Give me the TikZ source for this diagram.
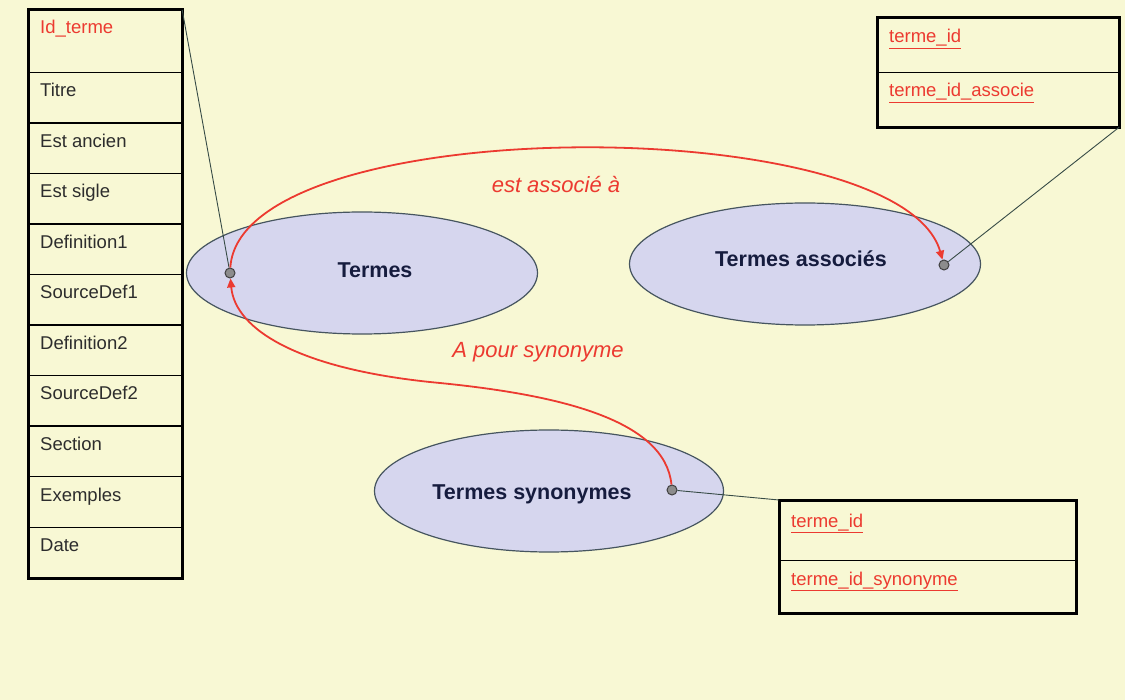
\documentclass[tikz,border=0pt]{standalone}
\usepackage{fontspec}
\setmainfont{Liberation Sans}
\usepackage{tikz}
\usetikzlibrary{arrows.meta,shapes.geometric}
\definecolor{bgYellow}{RGB}{248,248,212}
\definecolor{ellFill}{RGB}{214,214,238}
\definecolor{ellLine}{RGB}{70,85,95}
\definecolor{relRed}{RGB}{236,58,48}
\definecolor{entNavy}{RGB}{22,28,62}
\definecolor{fieldGray}{RGB}{45,45,45}
\definecolor{linkGray}{RGB}{55,75,70}
\newcommand{\fieldfont}{\fontsize{18.5}{22}\selectfont}
\newcommand{\entfont}{\fontsize{21.5}{25}\selectfont\bfseries}
\newcommand{\relfont}{\fontsize{22}{26}\selectfont\itshape}
\newcommand{\keyfield}[1]{\underline{#1}}
\tikzset{
    >={Triangle[length=9pt,width=8pt]},
    cell/.style={draw=black,line width=1.2pt,anchor=north west,inner sep=0pt},
    frame/.style={draw=black,line width=3pt},
    fieldtxt/.style={anchor=base west,xshift=12pt,yshift=-25pt,inner sep=0pt,font=\fieldfont,text=fieldGray},
    keytxt/.style={fieldtxt,text=relRed},
    entity/.style={ellipse,draw=ellLine,line width=1.2pt,fill=ellFill,inner sep=0pt},
    entitytxt/.style={font=\entfont,text=entNavy,inner sep=0pt},
    dot/.style={circle,minimum size=10pt,inner sep=0pt,draw=black!75,line width=1pt,fill=black!45},
    link/.style={draw=linkGray,line width=0.9pt},
    relarrow/.style={->,draw=relRed,line width=1.8pt},
    rellabel/.style={font=\relfont,text=relRed,inner sep=0pt},
}
\begin{document}
\begin{tikzpicture}[x=1pt,y=-1pt]
        \fill[bgYellow] (0,0) rectangle (1125,700);
        \useasboundingbox (0,0) rectangle (1125,700);

        % table of the terms
        \node[cell,minimum width=153pt,minimum height=62pt] (idterme) at (28,10) {};
        \node[keytxt,yshift=1pt] (idterme-t) at (idterme.north west) {Id\_terme};
        \foreach \nm/\txt [count=\i] in {titre/Titre,ancien/Est ancien,sigle/Est sigle,defa/Definition1,srca/SourceDef1,defb/Definition2,srcb/SourceDef2,section/Section,exemples/Exemples,date/Date}{
                \node[cell,minimum width=153pt,minimum height=50.5pt] (\nm) at (28,{72+(\i-1)*50.5}) {};
                \node[fieldtxt] (\nm-t) at (\nm.north west) {\txt};
        }
        \draw[frame] (idterme.north west) rectangle (date.south east);

        % table of the associations
        \node[cell,minimum width=241pt,minimum height=54pt] (ida) at (877,18) {};
        \node[cell,minimum width=241pt,minimum height=54pt] (idassoc) at (877,72) {};
        \node[keytxt] (ida-t) at (ida.north west) {\keyfield{terme\_id}};
        \node[keytxt] (idassoc-t) at (idassoc.north west) {\keyfield{terme\_id\_associe}};
        \draw[frame] (ida.north west) rectangle (idassoc.south east);

        % table of the synonyms
        \node[cell,minimum width=296pt,minimum height=60pt] (ids) at (779,500) {};
        \node[cell,minimum width=296pt,minimum height=52pt] (idsyn) at (779,560) {};
        \node[keytxt,yshift=-2pt] (ids-t) at (ids.north west) {\keyfield{terme\_id}};
        \node[keytxt] (idsyn-t) at (idsyn.north west) {\keyfield{terme\_id\_synonyme}};
        \draw[frame] (ids.north west) rectangle (idsyn.south east);

        % entities
        \node[entity,minimum width=351pt,minimum height=122pt] (termes) at (362,273) {};
        \node[entity,minimum width=351pt,minimum height=122pt] (assoc) at (805,264) {};
        \node[entity,minimum width=349pt,minimum height=122pt] (syn) at (549,491) {};
        \node[entitytxt] (termes-t) at (375,270) {Termes};
        \node[entitytxt] (assoc-t) at (801,259) {Termes associés};
        \node[entitytxt] (syn-t) at (532,494) {Termes synonymes};

        \node[dot] (dtermes) at (230,273) {};
        \node[dot] (dassoc) at (944,265) {};
        \node[dot] (dsyn) at (672,490) {};

        \draw[link] (idterme.north east) -- (dtermes);
        \draw[link] (idassoc.south east) -- (dassoc);
        \draw[link] (dsyn) -- (ids.north west);

        % relations
        \draw[relarrow] (dtermes) .. controls (240,110) and (900,110) .. (dassoc);
        \draw[relarrow] (dsyn) .. controls (665,420) and (560,395) .. (440,383)
                .. controls (300,370) and (235,330) .. (dtermes);
        \node[rellabel] (rassoc) at (556,185) {est associé à};
        \node[rellabel] (rsyn) at (538,352) {A pour synonyme};
\end{tikzpicture}
\end{document}
